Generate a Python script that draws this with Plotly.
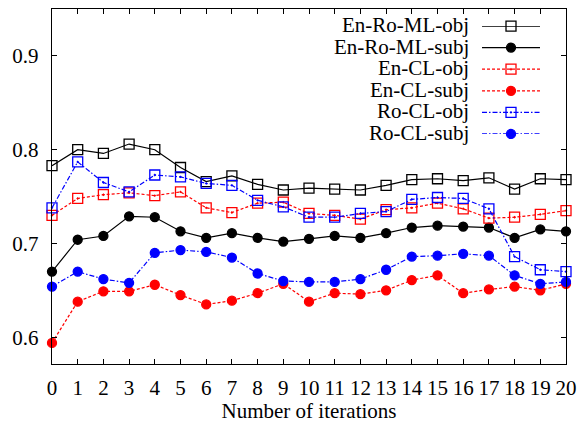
import plotly.graph_objects as go

iterations = list(range(21))
x_tick_labels = [str(i) for i in iterations]
y_tick_vals = [0.6, 0.7, 0.8, 0.9]
y_tick_labels = ["0.6", "0.7", "0.8", "0.9"]

series_names = ["En-Ro-ML-obj", "En-Ro-ML-subj", "En-CL-obj",
                "En-CL-subj", "Ro-CL-obj", "Ro-CL-subj"]

en_ro_ml_obj = [0.783, 0.800, 0.796, 0.806, 0.800, 0.781, 0.766, 0.772, 0.763, 0.757, 0.759,
                0.758, 0.757, 0.762, 0.768, 0.769, 0.767, 0.770, 0.758, 0.769, 0.768]
en_ro_ml_subj = [0.670, 0.704, 0.708, 0.729, 0.728, 0.713, 0.706, 0.711, 0.706, 0.702, 0.705,
                 0.708, 0.706, 0.711, 0.717, 0.719, 0.718, 0.717, 0.706, 0.715, 0.713]
en_cl_obj = [0.730, 0.748, 0.752, 0.754, 0.751, 0.755, 0.738, 0.733, 0.743, 0.744, 0.732,
             0.730, 0.726, 0.736, 0.738, 0.743, 0.737, 0.727, 0.728, 0.731, 0.735]
en_cl_subj = [0.594, 0.638, 0.649, 0.649, 0.656, 0.645, 0.635, 0.639, 0.647, 0.657, 0.638,
              0.647, 0.646, 0.650, 0.661, 0.666, 0.647, 0.651, 0.654, 0.650, 0.657]
ro_cl_obj = [0.738, 0.787, 0.765, 0.755, 0.773, 0.771, 0.764, 0.762, 0.746, 0.739, 0.728,
             0.728, 0.732, 0.734, 0.747, 0.749, 0.748, 0.737, 0.686, 0.672, 0.670]
ro_cl_subj = [0.654, 0.670, 0.662, 0.658, 0.690, 0.693, 0.691, 0.685, 0.668, 0.660, 0.659,
              0.659, 0.662, 0.672, 0.686, 0.687, 0.689, 0.687, 0.666, 0.657, 0.659]

series_values = [en_ro_ml_obj, en_ro_ml_subj, en_cl_obj, en_cl_subj, ro_cl_obj, ro_cl_subj]
colors = ["#000000", "#000000", "#ff0000", "#ff0000", "#0000ff", "#0000ff"]
dashes = ["solid", "solid", "3px,2px", "3px,2px", "5px,2px,1.5px,2px", "5px,2px,1.5px,2px"]
symbols = ["square-open", "circle", "square-open-dot", "circle", "square-open-dot", "circle"]
sizes = [10, 9, 10, 9, 10, 9]

FONT = "Liberation Serif"
TICKFONT = dict(family=FONT, size=21, color="#000000")

fig = go.Figure()
for name, vals, c, d, s, sz in zip(series_names, series_values, colors, dashes, symbols, sizes):
    fig.add_trace(go.Scatter(
        x=iterations, y=vals, mode="lines+markers", name=name, showlegend=False,
        line=dict(color=c, width=1.2, dash=d),
        marker=dict(symbol=s, size=sz, color=c, line=dict(color=c, width=1.3)),
        cliponaxis=False,
    ))

# key (gnuplot style: label on the left, sample on the right), drawn in a small subplot
# where each entry occupies one row: row index i, sample spans x 0..2 with marker at 1
sample_x = [0, 1, 2]
for i, (name, c, d, s, sz) in enumerate(zip(series_names, colors, dashes, symbols, sizes)):
    fig.add_trace(go.Scatter(
        x=sample_x, y=[i] * len(sample_x), xaxis="x2", yaxis="y2",
        mode="lines+markers", showlegend=False, hoverinfo="skip",
        line=dict(color=c, width=1.2, dash=d),
        marker=dict(symbol=s, size=sz, color=c, opacity=[0, 1, 0],
                    line=dict(color=c, width=1.3)),
        cliponaxis=False,
    ))
    fig.add_annotation(text=name, xref="x2", yref="y2", x=0, y=i, xshift=-11, yshift=1,
                       xanchor="right", yanchor="middle", showarrow=False,
                       font=dict(family=FONT, size=21, color="#000000"))

fig.update_layout(
    width=581, height=433,
    margin=dict(l=52, r=15, t=9, b=69, autoexpand=False),
    paper_bgcolor="white", plot_bgcolor="rgba(0,0,0,0)",
    font=dict(family=FONT, size=21, color="#000000"),
    showlegend=False,
    xaxis=dict(range=[0, 20], tickmode="array", tickvals=iterations, ticktext=x_tick_labels,
               tickfont=TICKFONT, automargin=False,
               ticks="inside", ticklen=5, tickwidth=1, tickcolor="#000000",
               showline=True, linecolor="#000000", linewidth=1.3, mirror="ticks",
               showgrid=False, zeroline=False, ticklabelstandoff=4,
               title=dict(text="Number of iterations", font=dict(family=FONT, size=21), standoff=2)),
    yaxis=dict(range=[0.5715, 0.95], tickmode="array", tickvals=y_tick_vals, ticktext=y_tick_labels,
               tickfont=TICKFONT, automargin=False,
               ticks="inside", ticklen=5, tickwidth=1, tickcolor="#000000",
               showline=True, linecolor="#000000", linewidth=1.3, mirror="ticks",
               showgrid=False, zeroline=False, ticklabelstandoff=8),
    xaxis2=dict(domain=[0.8366, 0.9494], range=[0, 2], anchor="y2",
                visible=False, fixedrange=True),
    yaxis2=dict(domain=[0.648, 0.952], range=[5, 0], anchor="x2",
                visible=False, fixedrange=True),
)

fig.write_html("out.html", post_script="document.body.style.margin='0';",
               config={"displayModeBar": False, "staticPlot": True})
